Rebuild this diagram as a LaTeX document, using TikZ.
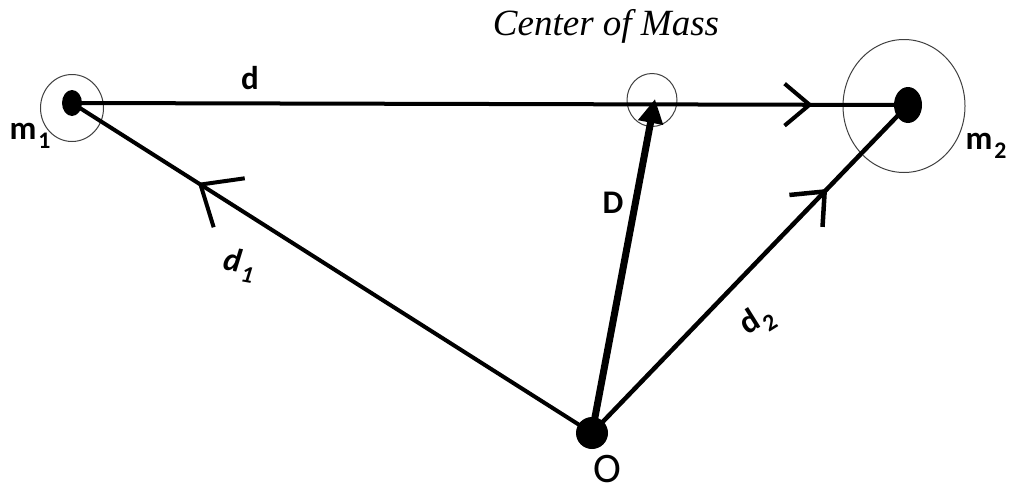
\documentclass[tikz,border=0pt]{standalone}
\usepackage{fontspec}
\setmainfont{Carlito}
\newfontfamily\comfont{Liberation Serif}
\usetikzlibrary{arrows.meta,decorations.markings,shapes.geometric}
\newcommand\lsub[1]{\kern0.06em\raisebox{-0.28em}{\scalebox{0.72}{#1}}}
\begin{document}
\begin{tikzpicture}[x=1pt,y=-1pt,
  dot/.style={ellipse,fill=black,inner sep=0pt},
  ring/.style={ellipse,draw=black!75,line width=1pt,inner sep=0pt},
  vec/.style={line width=4pt},
  lbl/.style={font=\fontsize{33}{38}\selectfont\bfseries,inner sep=0pt},
  chev/.style n args={3}{postaction={decorate},decoration={markings,
     mark=at position #1 with {\arrow{Straight Barb[length=#2,width=#3]}}}}]
\useasboundingbox (0,0) rectangle (1009,490);
% rings
\node[ring,minimum width=63pt,minimum height=67pt] (r1) at (72,108) {};
\node[ring,minimum width=50pt,minimum height=53pt] (rc) at (652,100) {};
\node[ring,minimum width=122pt,minimum height=133pt] (r2) at (904,106) {};
% masses and origin
\node[dot,minimum width=20pt,minimum height=26pt] (m1) at (72,103) {};
\node[dot,minimum width=28pt,minimum height=36pt] (m2) at (908,105) {};
\node[dot,minimum width=32pt,minimum height=32pt] (O) at (592,433) {};
\coordinate (cm) at (655,99);
% vectors
\draw[vec,chev={0.886}{25pt}{42pt}] (m1.center) -- (m2.center);
\draw[vec,chev={0.758}{34pt}{58pt}] (O.center) -- (m1.center);
\draw[line width=4.5pt,chev={0.744}{27pt}{46pt}] (O.center) -- (m2.center);
\draw[line width=7pt,-{Triangle[length=24pt,width=24pt]}] (O.center) -- (cm);
% labels
\node[font=\fontsize{37}{42}\selectfont\comfont\itshape,inner sep=0pt] (title) at (606,26) {Center of Mass};
\node[lbl] (lm1) at (30,136) {m\lsub{1}};
\node[lbl] (lm2) at (986,146) {m\lsub{2}};
\node[lbl] (ld) at (250,78) {d};
\node[lbl] (lD) at (613,203) {D};
\node[lbl,font=\fontsize{33}{38}\selectfont\bfseries\itshape,rotate=-10] (ld1) at (239,265) {d\lsub{1}};
\node[lbl,rotate=32] (ld2) at (757,321) {d\lsub{2}};
\node[font=\fontsize{42}{48}\selectfont,inner sep=0pt] (lO) at (607,469) {O};
\end{tikzpicture}
\end{document}
